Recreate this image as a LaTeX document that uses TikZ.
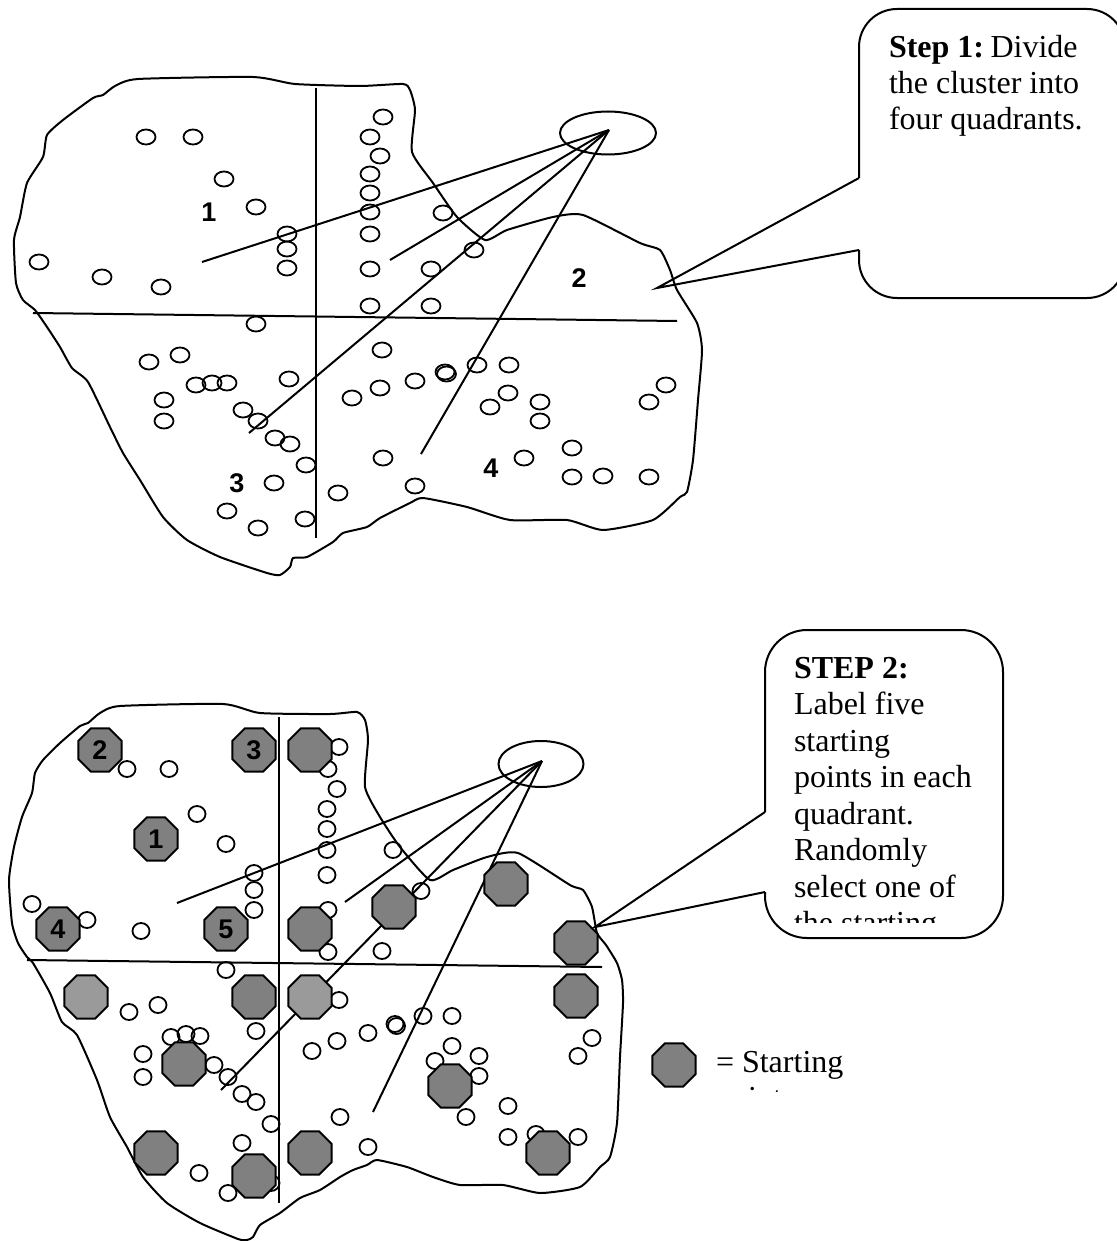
\documentclass[tikz,border=0pt]{standalone}
\usepackage{fontspec}
\setmainfont{Liberation Serif}
\newfontfamily\numfont{Liberation Sans}
\usetikzlibrary{shapes.geometric}
\definecolor{octgray}{HTML}{808080}
\definecolor{octlight}{HTML}{9A9A9A}
\begin{document}
\begin{tikzpicture}[x=0.5pt,y=-0.5pt,line width=1pt,
  dotT/.style={draw,line width=0.9pt},
  oct/.style={regular polygon,regular polygon sides=8,draw,line width=1pt,fill=octgray,
    minimum size=23.5pt,inner sep=0pt,font=\numfont\fontsize{13.5pt}{14pt}\selectfont\bfseries},
  octl/.style={oct,fill=octlight},
  qlab/.style={inner sep=0pt,font=\numfont\fontsize{13.5pt}{14pt}\selectfont\bfseries},
  txt/.style={anchor=base west,inner sep=0pt,font=\fontsize{16pt}{18pt}\selectfont},
  bub/.style={draw,line width=1pt},
  ray/.style={draw,line width=1pt}]
\useasboundingbox (0,0) rectangle (1117,1241);
\fill[white] (0,0) rectangle (1117,1241);
\clip (0,0) rectangle (1117,1241);

% ================= TOP FIGURE =================
\draw plot[smooth cycle,tension=0.35] coordinates {
(14,240) (20,217) (27,183) (43,157) (47,135) (63,120) (93,98) (103,95) (115,86) (138,79)
(253,77) (295,84) (360,86) (403,84) (410,90) (415,110) (412,152) (433,183) (457,217) (485,240)
(507,230) (553,217) (583,215) (640,243) (660,250) (670,270) (677,290) (697,323) (702,350)
(698,400) (693,460) (687,492) (680,497) (653,520) (603,530) (567,520) (510,520) (467,507)
(423,498) (410,503) (380,518) (367,527) (343,533) (333,542) (307,557) (293,558) (290,567)
(280,575) (267,573) (220,557) (187,540) (163,517) (140,480) (123,453) (110,427) (88,382)
(72,368) (60,347) (47,327) (35,310) (23,300) (16,283)};

\coordinate (hT1) at (33,313); \coordinate (hT2) at (677,321);
\coordinate (vT1) at (316,88);  \coordinate (vT2) at (316,538);
\draw (hT1) -- (hT2);
\draw (vT1) -- (vT2);

\foreach \x/\y in {146/137,193/137,224/179,256/207,287/234,287/249,287/268,39/262,102/277,161/287,256/324,
383/117,370/137,380/156,370/174,370/193,370/212,370/234,443/213,474/250,370/269,431/269,370/306,431/306,
149/362,180/355,196/385,212/383,227/383,289/379,352/398,164/400,164/421,243/410,258/421,275/438,290/444,
306/465,274/483,338/493,227/511,258/528,305/519,
382/350,445/372,446.5/374,477/365,509/365,415/381,380/388,508/393,490/407,540/402,540/421,666/385,649/402,
572/448,524/458,383/458,572/477,603/476,649/477,415/486}
  \draw[dotT] (\x,\y) ellipse [x radius=4.75pt,y radius=3.75pt];

\node[draw,ellipse,line width=1pt,minimum width=48pt,minimum height=21.5pt,inner sep=0pt] (ellT) at (608,133) {};
\coordinate (apT) at (609,130);
\coordinate (eT1) at (202,262); \coordinate (eT2) at (390,260);
\coordinate (eT3) at (249,433); \coordinate (eT4) at (421,454);
\draw[ray] (apT) -- (eT1);
\draw[ray] (apT) -- (eT2);
\draw[ray] (apT) -- (eT3);
\draw[ray] (apT) -- (eT4);

\node[qlab] (qT1) at (209,212) {1};
\node[qlab] (qT2) at (579,278) {2};
\node[qlab] (qT3) at (237,483) {3};
\node[qlab] (qT4) at (491,468) {4};

% callout 1
\coordinate (tip1) at (657,288);
\draw[bub,rounded corners=19pt] (859,250) -- (859,298) -- (1125,298) -- (1125,9) -- (859,9) -- (859,178);
\draw[bub] (859,178) -- (tip1) -- (859,250);
\node[txt] (c1a) at (888,58) {\textbf{Step 1:}\hspace{0.2em}Divide};
\node[txt] (c1b) at (888,94) {the cluster into};
\node[txt] (c1c) at (888,130) {four quadrants.};

% ================= BOTTOM FIGURE =================
\draw plot[smooth cycle,tension=0.35] coordinates {
(9,880) (14,847) (22,817) (32,793) (35,773) (43,760) (60,743) (80,726) (88,723) (100,713) (120,706)
(223,704) (260,713) (330,714) (357,712) (365,720) (368,740) (365,787) (380,817) (400,847) (430,880)
(453,870) (487,857) (518,853) (570,885) (583,890) (592,907) (597,933) (606,945) (617,963) (622,980)
(623,1003) (620,1057) (617,1123) (610,1157) (600,1167) (580,1187) (540,1193) (503,1185) (460,1185)
(433,1177) (407,1167) (377,1160) (367,1165) (353,1170) (340,1177) (320,1190) (300,1198) (280,1213)
(260,1225) (253,1237) (247,1240) (238,1239) (200,1223) (167,1203) (143,1177) (127,1147) (110,1117)
(97,1080) (77,1035) (62,1022) (50,993) (33,963) (27,957) (18,943) (12,923)};

\coordinate (hB1) at (27,960); \coordinate (hB2) at (602,967);
\coordinate (vB1) at (279,717); \coordinate (vB2) at (279,1203);
\draw (hB1) -- (hB2);
\draw (vB1) -- (vB2);

\foreach \x/\y in {127/769,169/769,197/814,226/844,254/873,254/890,254/910,32/904,87/920,141/931,
339/747,328/769,337/789,327/809,327/829,327/850,327/875,328/910,328/952,226/970,
393/850,421/891,382/951,
129/1012,158/1005,171/1037,186/1034,200/1036,256/1031,143/1054,143/1077,214/1065,228/1077,242/1094,
256/1102,271/1124,242/1143,199/1173,228/1193,271/1183,339/1000,312/1051,337/1041,368/1033,340/1117,368/1147,
395/1024,396.5/1026,423/1016,452/1016,452/1046,435/1061,479/1056,479/1076,466/1117,508/1106,508/1137,
536/1134,578/1137,592/1038,578/1056}
  \draw[dotT] (\x,\y) ellipse [x radius=4.25pt,y radius=4pt];

\node[draw,ellipse,line width=1pt,minimum width=42.5pt,minimum height=23pt,inner sep=0pt] (ellB) at (541,764) {};
\coordinate (apB) at (542,761);
\coordinate (eB1) at (177,903); \coordinate (eB2) at (345,902);
\coordinate (eB3) at (221,1090); \coordinate (eB4) at (373,1112);
\draw[ray] (apB) -- (eB1);
\draw[ray] (apB) -- (eB2);
\draw[ray] (apB) -- (eB3);
\draw[ray] (apB) -- (eB4);

% starting points (octagons)
\node[oct] (s2) at (100,750) {2};
\node[oct] (s3) at (254,750) {3};
\node[oct] (sa) at (310,750) {};
\node[oct] (s1) at (156,839) {1};
\node[oct] (s4) at (58,929) {4};
\node[oct] (s5) at (226,929) {5};
\node[oct] (sb) at (310,929) {};
\node[oct] (sc) at (394,907) {};
\node[oct] (sd) at (506,884) {};
\node[oct] (se) at (576,943) {};
\node[octl] (sf) at (86,997) {};
\node[oct] (sg) at (254,997) {};
\node[octl] (sh) at (310,997) {};
\node[oct] (si) at (576,996) {};
\node[oct] (sj) at (184,1064) {};
\node[oct] (sk) at (450,1086) {};
\node[oct] (sl) at (156,1153) {};
\node[oct] (sm) at (254,1176) {};
\node[oct] (sn) at (310,1153) {};
\node[oct] (so) at (548,1153) {};

% callout 2
\coordinate (tip2) at (595,927);
\draw[bub,rounded corners=21pt] (765,892) -- (765,938) -- (1003,938) -- (1003,630) -- (765,630) -- (765,812);
\draw[bub] (765,812) -- (tip2) -- (765,892);
\node[txt] (c2a) at (793,678) {\textbf{STEP 2:}};
\node[txt] (c2b) at (793,714.5) {Label five};
\node[txt] (c2c) at (793,751) {starting};
\node[txt] (c2d) at (793,787.5) {points in each};
\node[txt] (c2e) at (793,824) {quadrant.};
\node[txt] (c2f) at (793,860.5) {Randomly};
\node[txt] (c2g) at (793,897) {select one of};
\begin{scope}
  \clip (780,880) rectangle (1000,922);
  \node[txt] (c2h) at (793,933.5) {the starting};
\end{scope}

% legend
\node[oct] (leg) at (674,1065) {};
\node[txt] (leg1) at (715,1072) {= Starting};
\begin{scope}
  \clip (700,1075) rectangle (900,1091);
  \node[txt] (leg2) at (715,1108.5) {points};
\end{scope}
\end{tikzpicture}
\end{document}
